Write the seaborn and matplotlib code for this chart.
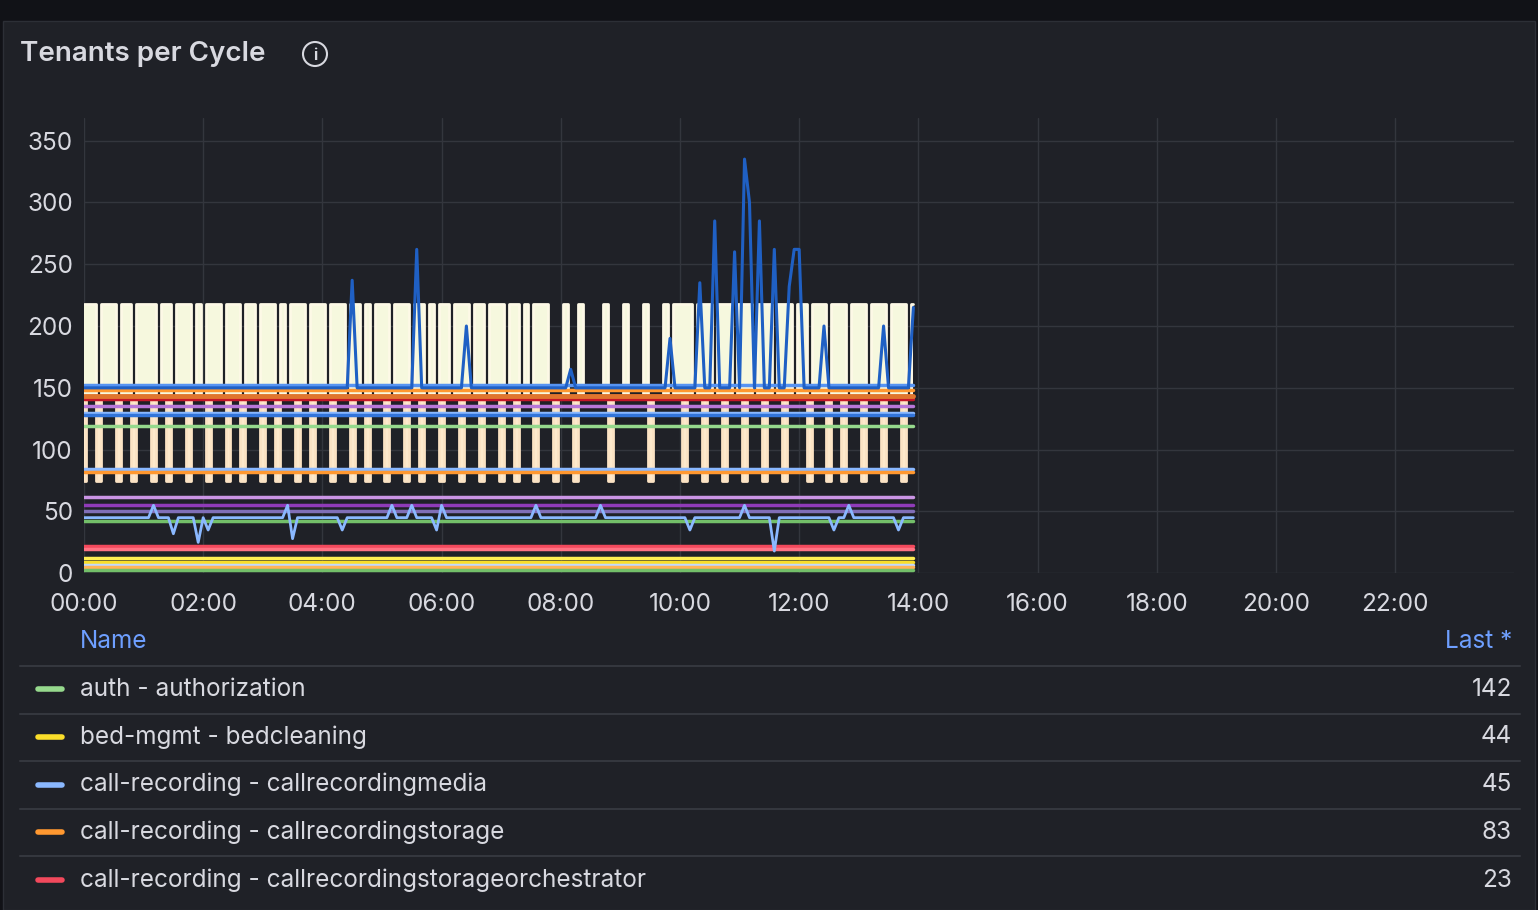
import numpy as np
import pandas as pd
import matplotlib
matplotlib.use("Agg")
import matplotlib.pyplot as plt
from matplotlib.patches import Ellipse
import seaborn as sns

BG = "#1f2127"
TXT = "#d8d9e0"
GRID = "#33363d"

# 5-minute samples, 00:00 .. 13:55
hours = np.arange(168) / 12.0

# cream series: 1 = 218, 0 = 142
cream_high = ("111011101101111011011101" "011101110110111010111011"
              "101110110101110111011010" "110111011011101101011100"
              "010010000100010001000101" "111011101110111011101110"
              "110111011101110111011101")
# peach series: 1 = 75, 0 = 142
peach_low = ("100100010010001001000100" "010001001000100100010010"
             "001000100100010001001000" "100010001000100100010001"
             "000100000010000000100000" "010001000100010001000100"
             "001000100100010001000100")

blue_base = 150
blue_spikes = {4.5: 237, 5.6: 262, 6.4: 200, 8.2: 165, 9.8: 190, 10.3: 235,
               10.6: 285, 10.9: 260, 11.1: 335, 11.2: 300, 11.35: 285,
               11.6: 262, 11.8: 232, 11.9: 262, 12.0: 262, 12.4: 200,
               13.4: 200, 13.9: 215}
lightblue_base = 45
lightblue_spikes = {1.2: 55, 1.5: 32, 1.9: 25, 2.1: 35, 3.4: 55, 3.5: 28,
                    4.3: 35, 5.2: 55, 5.5: 55, 5.9: 35, 6.0: 55, 7.6: 55,
                    8.7: 55, 10.2: 35, 11.1: 55, 11.6: 18, 12.6: 35,
                    12.8: 55, 13.7: 35}

flat_values = [152, 148, 141, 135, 130, 128, 119, 84, 82, 62, 55, 50, 42,
               22, 20, 12, 9, 7, 5, 3]
flat_colors = ["#5794f2", "#ff9830", "#c4162a", "#b877d9", "#8ab8ff", "#3274d9",
               "#96d98d", "#8ab8ff", "#ff9830", "#ca95e5", "#8f3bb8", "#806eb7",
               "#73bf69", "#f2495c", "#ff7383", "#ffee52", "#fade2a", "#c0d8ff",
               "#ffb357", "#73bf69"]

legend_names = ["auth - authorization", "bed-mgmt - bedcleaning",
                "call-recording - callrecordingmedia",
                "call-recording - callrecordingstorage",
                "call-recording - callrecordingstorageorchestrator"]
legend_last = [142, 44, 45, 83, 23]
legend_colors = ["#96d98d", "#fade2a", "#8ab8ff", "#ff9830", "#f2495c"]

sns.set_style("dark")
plt.rcParams["font.family"] = ["Inter", "DejaVu Sans"]

fig = plt.figure(figsize=(15.38, 9.1), dpi=100, facecolor="#111217")
panel = plt.Rectangle((0.002, 0), 0.996, 0.977, transform=fig.transFigure,
                      facecolor=BG, edgecolor="#2c2f36", zorder=-5)
fig.patches.append(panel)

ax = fig.add_axes([0.0546, 0.370, 0.930, 0.5])
ax.set_zorder(2)
ax.set_facecolor(BG)


def spiky(base, spikes):
    v = np.full(len(hours), float(base))
    for h, val in spikes.items():
        v[int(round(h * 12))] = val
    return v


cream = np.array([218 if c == "1" else 142 for c in cream_high])
peach = np.array([75 if c == "1" else 142 for c in peach_low])

ax.fill_between(hours, 142, cream, step="mid", color="#f6f8de", lw=0)
ax.fill_between(hours, 142, peach, step="mid", color="#fde9cc", lw=0)
sns.lineplot(x=hours, y=cream, ax=ax, color="#fdf9e6", lw=2, drawstyle="steps-mid")
sns.lineplot(x=hours, y=peach, ax=ax, color="#fbe3c4", lw=2, drawstyle="steps-mid")
for val, col in zip(flat_values, flat_colors):
    sns.lineplot(x=hours, y=np.full(len(hours), val), ax=ax, color=col, lw=2.5)
sns.lineplot(x=hours, y=spiky(blue_base, blue_spikes), ax=ax, color="#1f60c4", lw=2.2)
sns.lineplot(x=hours, y=spiky(lightblue_base, lightblue_spikes), ax=ax, color="#8ab8ff", lw=2)
sns.lineplot(x=hours, y=np.full(len(hours), 143), ax=ax, color="#e0752d", lw=3.5)

ax.set_xlim(0, 24)
ax.set_ylim(0, 368)
ax.set_yticks(range(0, 351, 50))
ax.set_xticks(range(0, 23, 2))
ax.set_xticklabels([f"{h:02d}:00" for h in range(0, 23, 2)])
ax.grid(True, color=GRID, lw=1)
ax.tick_params(colors=TXT, labelsize=17.5, length=0, pad=8)
ax.tick_params(axis="x", pad=14)
for s in ax.spines.values():
    s.set_visible(False)
ax.set_xlabel("")
ax.set_ylabel("")

fig.text(20 / 1538, 1 - 54 / 910, "Tenants per Cycle", color=TXT, fontsize=20,
         fontweight="semibold", va="center")
fig.patches.append(Ellipse((315 / 1538, 1 - 54 / 910), 24 / 1538, 24 / 910,
                           transform=fig.transFigure, fill=False, edgecolor=TXT, lw=1.5))
fig.text(315 / 1538, 1 - 55 / 910, "i", color=TXT, fontsize=11, ha="center", va="center",
         fontweight="bold")

# legend table
fig.text(80 / 1538, 1 - 641 / 910, "Name", color="#6e9fff", fontsize=17.5, va="center")
fig.text(1512 / 1538, 1 - 641 / 910, "Last *", color="#6e9fff", fontsize=17.5,
         va="center", ha="right")
for i, (name, last, col) in enumerate(zip(legend_names, legend_last, legend_colors)):
    ysep = 1 - (666 + 47.5 * i) / 910
    fig.add_artist(plt.Line2D([20 / 1538, 1520 / 1538], [ysep, ysep], color="#34373e", lw=1.5))
    y = 1 - (689 + 47.8 * i) / 910
    fig.add_artist(plt.Line2D([38 / 1538, 62 / 1538], [y, y], color=col, lw=4,
                              solid_capstyle="round"))
    fig.text(80 / 1538, y, name, color=TXT, fontsize=17.5, va="center")
    fig.text(1512 / 1538, y, str(last), color=TXT, fontsize=17.5, va="center", ha="right")

fig.savefig("out.png", dpi=100, facecolor=fig.get_facecolor())
